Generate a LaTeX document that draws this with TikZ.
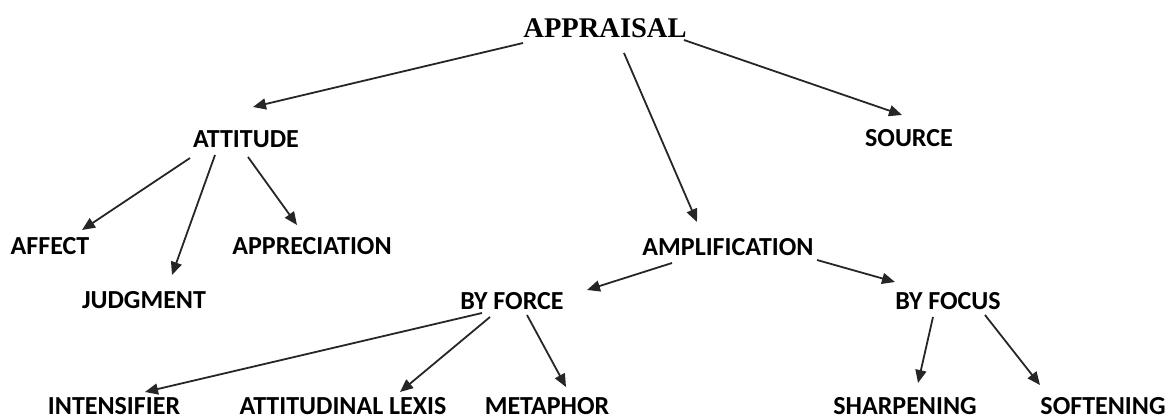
\documentclass[tikz,border=0pt]{standalone}
\usepackage{fontspec}
\setmainfont{Carlito}
\newfontfamily\serifbold{Liberation Serif}
\usetikzlibrary{arrows.meta}
\tikzset{
  lbl/.style={inner sep=0pt, font=\fontsize{26}{30}\selectfont\bfseries, text=black},
  toplbl/.style={inner sep=0pt, font=\serifbold\fontsize{28.5}{32}\selectfont\bfseries, text=black},
  arr/.style={line width=1.8pt, draw=black!85, -{Triangle[length=13pt,width=11pt]}}
}
\begin{document}
\begin{tikzpicture}[x=1pt,y=-1pt]
\useasboundingbox (0,0) rectangle (1170,420);
\node[toplbl] (app) at (605,28) {APPRAISAL};
\node[lbl] (att) at (246,139) {ATTITUDE};
\node[lbl] (src) at (909,138) {SOURCE};
\node[lbl] (aff) at (50,246) {AFFECT};
\node[lbl] (apc) at (312,246) {APPRECIATION};
\node[lbl] (jud) at (144,300) {JUDGMENT};
\node[lbl] (amp) at (728,247) {AMPLIFICATION};
\node[lbl] (bfr) at (512,301) {BY FORCE};
\node[lbl] (bfc) at (948,301) {BY FOCUS};
\node[lbl] (int) at (114,406) {INTENSIFIER};
\node[lbl] (lex) at (343,406) {ATTITUDINAL LEXIS};
\node[lbl] (met) at (547,406) {METAPHOR};
\node[lbl] (shp) at (905,406) {SHARPENING};
\node[lbl] (sof) at (1103,406) {SOFTENING};
\draw[arr] ([shift={(-82,15)}]app.center) -- ([shift={(7,-32)}]att.center);
\draw[arr] ([shift={(19,25)}]app.center) -- ([shift={(-31,-25)}]amp.center);
\draw[arr] ([shift={(79,12)}]app.center) -- ([shift={(-7,-23)}]src.center);
\draw[arr] ([shift={(-56,19)}]att.center) -- ([shift={(32,-16)}]aff.center);
\draw[arr] ([shift={(-31,16)}]att.center) -- ([shift={(28,-25)}]jud.center);
\draw[arr] ([shift={(2,18)}]att.center) -- ([shift={(-15,-21)}]apc.center);
\draw[arr] ([shift={(-56,16)}]amp.center) -- ([shift={(75,-11)}]bfr.center);
\draw[arr] ([shift={(89,13)}]amp.center) -- ([shift={(-53,-19)}]bfc.center);
\draw[arr] ([shift={(-30,12)}]bfr.center) -- ([shift={(31,-14)}]int.center);
\draw[arr] ([shift={(-22,16)}]bfr.center) -- ([shift={(57,-14)}]lex.center);
\draw[arr] ([shift={(15,14)}]bfr.center) -- ([shift={(19,-19)}]met.center);
\draw[arr] ([shift={(-15,16)}]bfc.center) -- ([shift={(13,-23)}]shp.center);
\draw[arr] ([shift={(37,14)}]bfc.center) -- ([shift={(-63,-21)}]sof.center);
\end{tikzpicture}
\end{document}
